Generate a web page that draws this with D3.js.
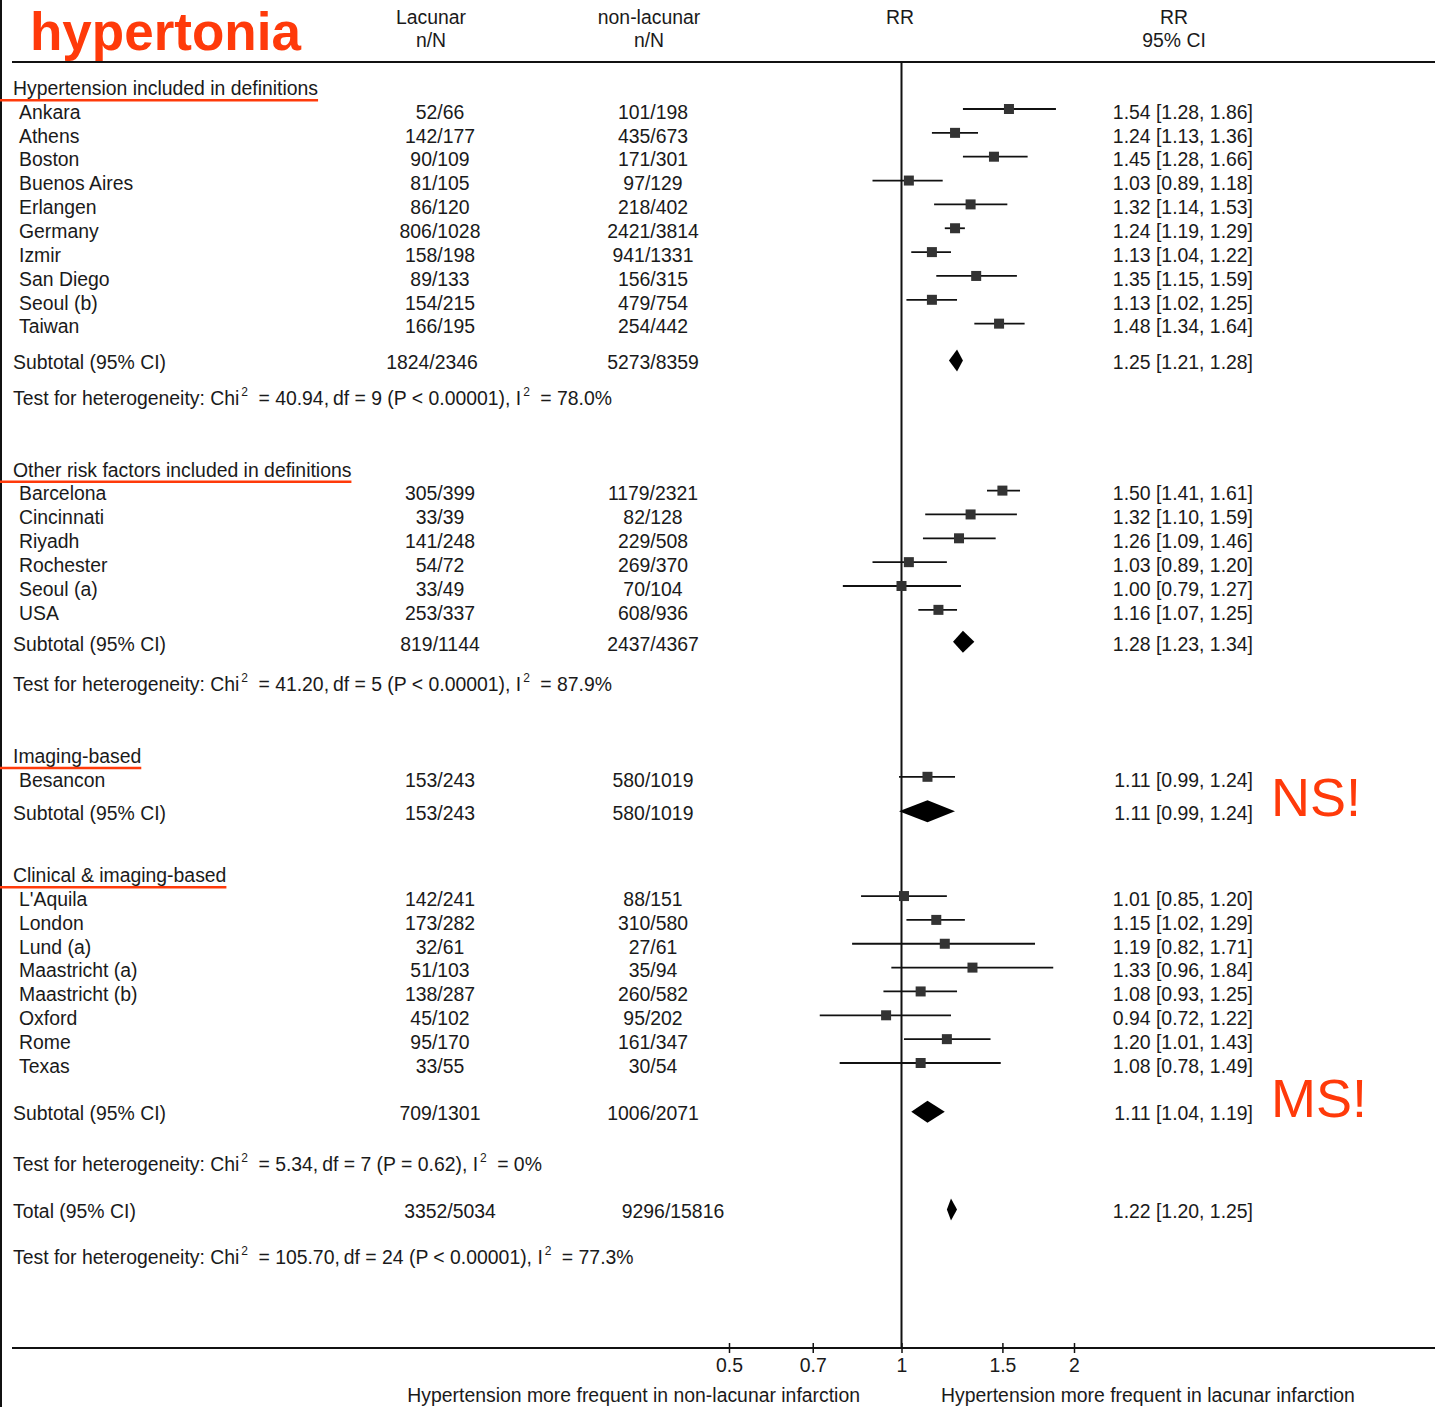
<!DOCTYPE html>
<html>
<head>
<meta charset="utf-8">
<script src="https://cdn.jsdelivr.net/npm/d3@7"></script>
<style>
  body { margin: 0; background: #fff; }
  svg text { font-family: "Liberation Sans", Arial, sans-serif; fill: #1a1a1a; }
</style>
</head>
<body>
<div id="chart"></div>
<script>
// ---- data ----
const groupNames = ['Hypertension included in definitions', 'Other risk factors included in definitions',
  'Imaging-based', 'Clinical & imaging-based'];

const studyNames = ['Ankara', 'Athens', 'Boston', 'Buenos Aires', 'Erlangen', 'Germany', 'Izmir', 'San Diego', 'Seoul (b)', 'Taiwan',
  'Barcelona', 'Cincinnati', 'Riyadh', 'Rochester', 'Seoul (a)', 'USA',
  'Besancon',
  "L'Aquila", 'London', 'Lund (a)', 'Maastricht (a)', 'Maastricht (b)', 'Oxford', 'Rome', 'Texas'];
const studyGroup = [0,0,0,0,0,0,0,0,0,0, 1,1,1,1,1,1, 2, 3,3,3,3,3,3,3,3];
const lacunarNN = ['52/66', '142/177', '90/109', '81/105', '86/120', '806/1028', '158/198', '89/133', '154/215', '166/195',
  '305/399', '33/39', '141/248', '54/72', '33/49', '253/337',
  '153/243',
  '142/241', '173/282', '32/61', '51/103', '138/287', '45/102', '95/170', '33/55'];
const nonLacunarNN = ['101/198', '435/673', '171/301', '97/129', '218/402', '2421/3814', '941/1331', '156/315', '479/754', '254/442',
  '1179/2321', '82/128', '229/508', '269/370', '70/104', '608/936',
  '580/1019',
  '88/151', '310/580', '27/61', '35/94', '260/582', '95/202', '161/347', '30/54'];
const studyRR = [1.54, 1.24, 1.45, 1.03, 1.32, 1.24, 1.13, 1.35, 1.13, 1.48,
  1.50, 1.32, 1.26, 1.03, 1.00, 1.16,
  1.11,
  1.01, 1.15, 1.19, 1.33, 1.08, 0.94, 1.20, 1.08];
const studyLo = [1.28, 1.13, 1.28, 0.89, 1.14, 1.19, 1.04, 1.15, 1.02, 1.34,
  1.41, 1.10, 1.09, 0.89, 0.79, 1.07,
  0.99,
  0.85, 1.02, 0.82, 0.96, 0.93, 0.72, 1.01, 0.78];
const studyHi = [1.86, 1.36, 1.66, 1.18, 1.53, 1.29, 1.22, 1.59, 1.25, 1.64,
  1.61, 1.59, 1.46, 1.20, 1.27, 1.25,
  1.24,
  1.20, 1.29, 1.71, 1.84, 1.25, 1.22, 1.43, 1.49];

const subLacunar = ['1824/2346', '819/1144', '153/243', '709/1301'];
const subNonLacunar = ['5273/8359', '2437/4367', '580/1019', '1006/2071'];
const subRR = [1.25, 1.28, 1.11, 1.11];
const subLo = [1.21, 1.23, 0.99, 1.04];
const subHi = [1.28, 1.34, 1.24, 1.19];
// [chi2, df, P, I2] ; null = no test shown
const subHet = [['40.94', '9', '< 0.00001', '78.0%'], ['41.20', '5', '< 0.00001', '87.9%'], null, ['5.34', '7', '= 0.62', '0%']];

const totalLacunar = '3352/5034';
const totalNonLacunar = '9296/15816';
const totalRR = [1.22, 1.20, 1.25];
const totalHet = ['105.70', '24', '< 0.00001', '77.3%'];

const tickValues = [0.5, 0.7, 1, 1.5, 2];
const annotations = [{ text: 'NS!', group: 2 }, { text: 'MS!', group: 3 }];

// ---- layout ----
const W = 1435, H = 1407;
const RED = '#ff3a0a';
const FS = 19.4;
const xLac = 440, xNon = 653, xRRtext = 1253;

const x = d3.scaleLog().domain([0.5, 2]).range([729, 1074]);
const yRow = d3.scaleLinear().domain([0, 1]).range([112, 135.85]);

// row units: build positions for the sequence of lines
const subGap = [1.5, 1.3, 1.4, 2.0];
const hetGap = [1.5, 1.7, 0, 2.1];
const rows = [];
let u = -1;
groupNames.forEach((gname, gi) => {
  rows.push({ type: 'header', g: gi, u });
  studyNames.forEach((n, i) => {
    if (studyGroup[i] !== gi) return;
    u += 1;
    rows.push({ type: 'study', i, u });
  });
  u += subGap[gi];
  rows.push({ type: 'sub', g: gi, u });
  if (subHet[gi]) { u += hetGap[gi]; rows.push({ type: 'het', het: subHet[gi], u }); u += 3; }
  else { u += 2.6; }
});
u = rows[rows.length - 1].u + 2.0;
rows.push({ type: 'total', u });
u += 1.9;
rows.push({ type: 'het', het: totalHet, u });

const svg = d3.select('#chart').append('svg').attr('width', W).attr('height', H);

// frame lines
svg.append('line').attr('x1', 1).attr('x2', 1).attr('y1', 0).attr('y2', H)
  .attr('stroke', '#111').attr('stroke-width', 2);
const yTop = 62, yAxis = 1348;
svg.append('line').attr('x1', 12).attr('x2', W).attr('y1', yTop).attr('y2', yTop)
  .attr('stroke', '#111').attr('stroke-width', 2);
svg.append('line').attr('x1', x(1)).attr('x2', x(1)).attr('y1', yTop).attr('y2', yAxis)
  .attr('stroke', '#111').attr('stroke-width', 2);

// title + column headers
svg.append('text').attr('x', 30).attr('y', 50).text('hypertonia')
  .style('font-size', '53px').style('font-weight', 'bold').style('fill', RED);
const headers = [['Lacunar', 'n/N', 431], ['non-lacunar', 'n/N', 649], ['RR', '', 900], ['RR', '95% CI', 1174]];
headers.forEach(h => {
  svg.append('text').attr('x', h[2]).attr('y', 24).attr('text-anchor', 'middle').style('font-size', FS + 'px').text(h[0]);
  if (h[1]) svg.append('text').attr('x', h[2]).attr('y', 47).attr('text-anchor', 'middle').style('font-size', FS + 'px').text(h[1]);
});

function txt(xp, yp, s, anchor) {
  return svg.append('text').attr('x', xp).attr('y', yp).attr('dy', '0.35em')
    .attr('text-anchor', anchor || 'start').style('font-size', FS + 'px').text(s);
}
const fmt = v => v.toFixed(2);
const ciText = (r, lo, hi) => `${fmt(r)} [${fmt(lo)}, ${fmt(hi)}]`;

function diamond(r, lo, hi, yc) {
  const p = [[x(lo), yc], [x(r), yc - 11], [x(hi), yc], [x(r), yc + 11]];
  svg.append('path').attr('d', 'M' + p.join('L') + 'Z').attr('fill', '#000');
}

rows.forEach(row => {
  const yc = yRow(row.u);
  if (row.type === 'header') {
    const t = txt(13, yc, groupNames[row.g]);
    const w = t.node().getComputedTextLength();
    svg.append('line').attr('x1', 0).attr('x2', 13 + w).attr('y1', yc + 12).attr('y2', yc + 12)
      .attr('stroke', RED).attr('stroke-width', 2.5);
  } else if (row.type === 'study') {
    const i = row.i;
    txt(19, yc, studyNames[i]);
    txt(xLac, yc, lacunarNN[i], 'middle');
    txt(xNon, yc, nonLacunarNN[i], 'middle');
    txt(xRRtext, yc, ciText(studyRR[i], studyLo[i], studyHi[i]), 'end');
    svg.append('line').attr('x1', x(studyLo[i])).attr('x2', x(studyHi[i])).attr('y1', yc - 3).attr('y2', yc - 3)
      .attr('stroke', '#111').attr('stroke-width', 1.8);
    svg.append('rect').attr('x', x(studyRR[i]) - 5).attr('y', yc - 8).attr('width', 10).attr('height', 10)
      .attr('fill', '#333');
  } else if (row.type === 'sub') {
    const g = row.g;
    txt(13, yc, 'Subtotal (95% CI)');
    txt(g === 0 ? xLac - 8 : xLac, yc, subLacunar[g], 'middle');
    txt(xNon, yc, subNonLacunar[g], 'middle');
    txt(xRRtext, yc, ciText(subRR[g], subLo[g], subHi[g]), 'end');
    diamond(subRR[g], subLo[g], subHi[g], yc - 2);
  } else if (row.type === 'total') {
    txt(13, yc, 'Total (95% CI)');
    txt(xLac + 10, yc, totalLacunar, 'middle');
    txt(xNon + 20, yc, totalNonLacunar, 'middle');
    txt(xRRtext, yc, ciText(totalRR[0], totalRR[1], totalRR[2]), 'end');
    diamond(totalRR[0], totalRR[1], totalRR[2], yc - 2);
  } else if (row.type === 'het') {
    const h = row.het;
    const t = txt(13, yc, '');
    t.append('tspan').text('Test for heterogeneity: Chi');
    t.append('tspan').attr('dy', -9).attr('dx', 2).style('font-size', '12px').text('2');
    t.append('tspan').attr('dy', 9).attr('dx', 5).text(` = ${h[0]},\u2009df = ${h[1]} (P ${h[2]}), I`);
    t.append('tspan').attr('dy', -9).attr('dx', 2).style('font-size', '12px').text('2');
    t.append('tspan').attr('dy', 9).attr('dx', 5).text(` = ${h[3]}`);
  }
});

// red annotations next to subtotals
annotations.forEach(a => {
  const row = rows.find(r => r.type === 'sub' && r.g === a.group);
  svg.append('text').attr('x', 1271).attr('y', yRow(row.u) - 16).attr('dy', '0.35em')
    .style('font-size', '54px').style('fill', RED).text(a.text);
});

// bottom axis
svg.append('line').attr('x1', 12).attr('x2', W).attr('y1', yAxis).attr('y2', yAxis)
  .attr('stroke', '#111').attr('stroke-width', 2);
const axis = d3.axisBottom(x).tickValues(tickValues).tickSize(5).tickFormat(d => String(d));
const ag = svg.append('g').attr('transform', `translate(0,${yAxis})`).call(axis);
ag.select('.domain').remove();
ag.selectAll('.tick line').attr('y1', -5).attr('y2', 5).attr('stroke', '#111').attr('stroke-width', 1.5);
ag.selectAll('.tick text').attr('y', 10).style('font-size', FS + 'px').style('font-family', '"Liberation Sans", Arial, sans-serif')
  .attr('fill', '#1a1a1a');

svg.append('text').attr('x', 860).attr('y', 1402).attr('text-anchor', 'end').style('font-size', FS + 'px')
  .text('Hypertension more frequent in non-lacunar infarction');
svg.append('text').attr('x', 941).attr('y', 1402).style('font-size', FS + 'px')
  .text('Hypertension more frequent in lacunar infarction');
</script>
</body>
</html>
